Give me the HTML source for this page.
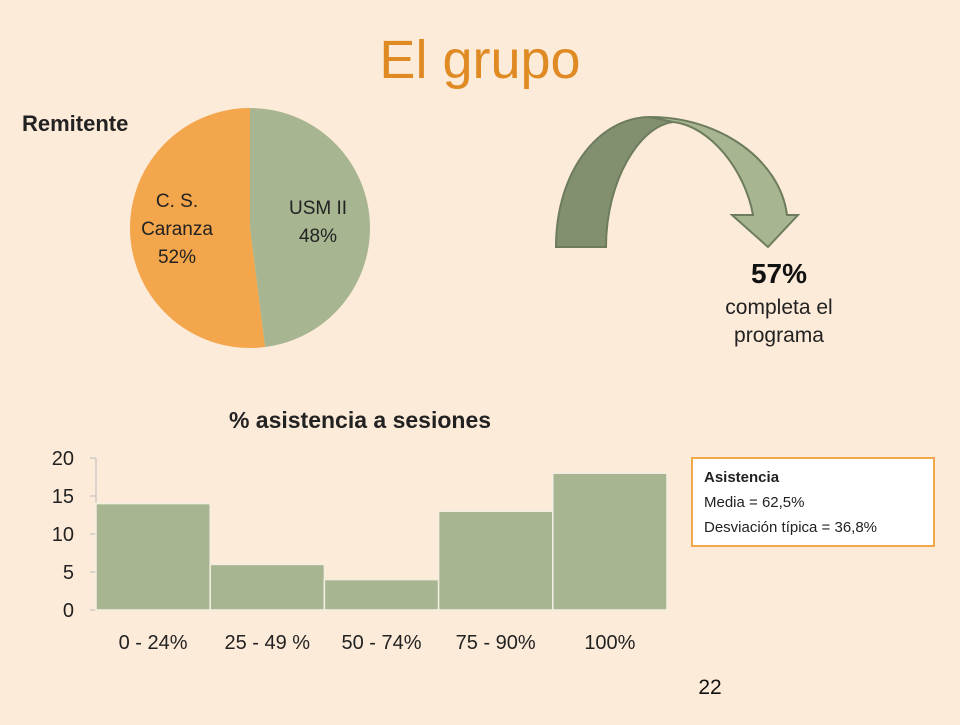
<!DOCTYPE html>
<html><head><meta charset="utf-8"><style>
body{margin:0;background:#fdebd9;width:960px;height:720px;overflow:hidden;font-family:"Liberation Sans",sans-serif;}
</style></head><body>
<svg width="960" height="720" xmlns="http://www.w3.org/2000/svg">
<rect width="960" height="720" fill="#fdebd9"/>
<text x="480" y="78" text-anchor="middle" font-size="54" fill="#e08a23">El grupo</text>
<text x="22" y="131" font-size="22" font-weight="bold" fill="#222">Remitente</text>
<g id="pie"></g>
<g>
<path d="M556,247 L606,247 C606,180 640,126 673,122 L650,117 C600,117 556,170 556,247 Z" fill="#83906f" stroke="#6e7c5e" stroke-width="2"/>
<path d="M650,117 C720,117 780,160 787,215 L798,215 L768,247 L732,215 L753,215 C745,170 710,126 673,122 Z" fill="#a7b591" stroke="#6e7c5e" stroke-width="2"/>
</g>
<text x="779" y="283" text-anchor="middle" font-size="28" font-weight="bold" fill="#111">57%</text>
<text x="779" y="314" text-anchor="middle" font-size="21" fill="#222">completa el</text>
<text x="779" y="342" text-anchor="middle" font-size="21" fill="#222">programa</text>
<text x="360" y="428" text-anchor="middle" font-size="23" font-weight="bold" fill="#222">% asistencia a sesiones</text>
<g id="hist"></g>
<g>
<rect x="692" y="458" width="242" height="88" fill="#fff" stroke="#f0a848" stroke-width="2"/>
<text x="704" y="482" font-size="15" font-weight="bold" fill="#222">Asistencia</text>
<text x="704" y="507" font-size="15" fill="#222">Media = 62,5%</text>
<text x="704" y="532" font-size="15" fill="#222">Desviación típica = 36,8%</text>
</g>
<text x="710" y="694" text-anchor="middle" font-size="21" fill="#111">22</text>
</svg>
<script>
const pieLabels=[["USM II","48%"],["C. S.","Caranza","52%"]];
const pieValues=[48,52];
const pieColors=["#a7b591","#f3a64b"];
const categories=["0 - 24%","25 - 49 %","50 - 74%","75 - 90%","100%"];
const counts=[14,6,4,13,18];
const yTicks=[0,5,10,15,20];
const NS="http://www.w3.org/2000/svg";
function mk(t,a,p){const e=document.createElementNS(NS,t);for(const k in a)e.setAttribute(k,a[k]);p.appendChild(e);return e;}
const pie=document.getElementById('pie');
const cx=250,cy=228,r=120;const tot=pieValues.reduce((a,b)=>a+b,0);
let ang=0;const labelPos=[[318,228],[177,235]];
pieValues.forEach((v,i)=>{const a0=ang,a1=ang+v/tot*2*Math.PI;ang=a1;
const x0=cx+r*Math.sin(a0),y0=cy-r*Math.cos(a0),x1=cx+r*Math.sin(a1),y1=cy-r*Math.cos(a1);
const p=mk('path',{d:`M${cx},${cy} L${x0},${y0} A${r},${r} 0 ${a1-a0>Math.PI?1:0} 1 ${x1},${y1} Z`,fill:pieColors[i]},pie);


const lines=pieLabels[i];const [lx,ly]=labelPos[i];
lines.forEach((s,j)=>{const t=mk('text',{x:lx,y:ly-(lines.length-1)*14+j*28,'text-anchor':'middle','font-size':19,fill:'#222'},pie);t.textContent=s;

});
});
const h=document.getElementById('hist');
const X0=96,X1=667,Y0=610,Y1=458,ymax=20;
const y=v=>Y0-(v/ymax)*(Y0-Y1);const bw=(X1-X0)/categories.length;
mk('line',{x1:X0,y1:Y1,x2:X0,y2:Y0,stroke:'#bbb'},h);
mk('line',{x1:X0,y1:Y0,x2:X1,y2:Y0,stroke:'#bbb'},h);
yTicks.forEach(v=>{mk('line',{x1:X0-6,y1:y(v),x2:X0,y2:y(v),stroke:'#bbb'},h);
const t=mk('text',{x:74,y:y(v)+7,'text-anchor':'end','font-size':20,fill:'#222'},h);t.textContent=v;

});
counts.forEach((c,i)=>{const b=mk('rect',{x:X0+i*bw,y:y(c),width:bw,height:Y0-y(c),fill:'#a7b591',stroke:'#f4eee0','stroke-width':1.5},h);


const t=mk('text',{x:X0+i*bw+bw/2,y:649,'text-anchor':'middle','font-size':20,fill:'#222'},h);t.textContent=categories[i];

});
</script>
</body></html>
